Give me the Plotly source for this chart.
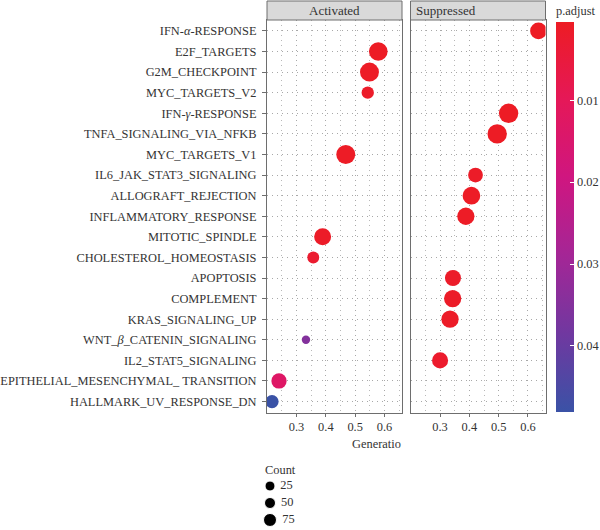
import plotly.graph_objects as go
import numpy as np

pathways = [
    "IFN-<i>α</i>-RESPONSE", "E2F_TARGETS", "G2M_CHECKPOINT", "MYC_TARGETS_V2",
    "IFN-<i>γ</i>-RESPONSE", "TNFA_SIGNALING_VIA_NFKB", "MYC_TARGETS_V1",
    "IL6_JAK_STAT3_SIGNALING", "ALLOGRAFT_REJECTION", "INFLAMMATORY_RESPONSE",
    "MITOTIC_SPINDLE", "CHOLESTEROL_HOMEOSTASIS", "APOPTOSIS", "COMPLEMENT",
    "KRAS_SIGNALING_UP", "WNT_<i>β</i>_CATENIN_SIGNALING", "IL2_STAT5_SIGNALING",
    "EPITHELIAL_MESENCHYMAL_ TRANSITION", "HALLMARK_UV_RESPONSE_DN",
]

# Activated panel
act_terms = ["E2F_TARGETS", "G2M_CHECKPOINT", "MYC_TARGETS_V2", "MYC_TARGETS_V1",
             "MITOTIC_SPINDLE", "CHOLESTEROL_HOMEOSTASIS", "WNT_<i>β</i>_CATENIN_SIGNALING",
             "EPITHELIAL_MESENCHYMAL_ TRANSITION", "HALLMARK_UV_RESPONSE_DN"]
act_ratio = [0.579, 0.549, 0.543, 0.468, 0.389, 0.357, 0.332, 0.240, 0.216]
act_count = [69, 71, 30, 71, 57, 28, 14, 46, 35]
act_padj = [0.0006, 0.0007, 0.0015, 0.0008, 0.0012, 0.0025, 0.035, 0.013, 0.048]

# Suppressed panel
sup_terms = ["IFN-<i>α</i>-RESPONSE", "IFN-<i>γ</i>-RESPONSE", "TNFA_SIGNALING_VIA_NFKB",
             "IL6_JAK_STAT3_SIGNALING", "ALLOGRAFT_REJECTION", "INFLAMMATORY_RESPONSE",
             "APOPTOSIS", "COMPLEMENT", "KRAS_SIGNALING_UP", "IL2_STAT5_SIGNALING"]
sup_ratio = [0.636, 0.534, 0.495, 0.421, 0.407, 0.388, 0.344, 0.343, 0.334, 0.300]
sup_count = [55, 74, 74, 43, 62, 59, 51, 59, 59, 51]
sup_padj = [0.0004, 0.0005, 0.0005, 0.0012, 0.0008, 0.0008, 0.0015, 0.0012, 0.0012, 0.002]

# size legend
legend_counts = [25, 50, 75]
legend_sizes = [10, 11, 13]

x_ticks = [0.3, 0.4, 0.5, 0.6]
cbar_ticks = [0.01, 0.02, 0.03, 0.04]
PMIN, PMAX = 0.0004, 0.048

FONT = "'Liberation Serif', 'DejaVu Serif', serif"
TXT = "#333333"
# red (small p, top of bar) -> blue (large p, bottom of bar); bar is drawn on -p
colorscale = [
    [0.0, "rgb(58,82,166)"], [0.2, "rgb(112,56,160)"], [0.4, "rgb(164,38,150)"],
    [0.6, "rgb(207,22,128)"], [0.8, "rgb(229,24,88)"], [1.0, "rgb(237,28,36)"],
]

def diam(c):
    return 2.25 * np.sqrt(np.array(c, dtype=float))

def neg(v):
    return [-p for p in v]

W, H = 600, 530
L1, R1 = 267, 402
L2, R2 = 410.5, 545.5
TOP, BOT = 20, 412.5

fig = go.Figure()
fig.add_trace(go.Scatter(
    x=act_ratio, y=act_terms, mode="markers", xaxis="x", yaxis="y",
    marker=dict(size=diam(act_count), color=neg(act_padj), coloraxis="coloraxis",
                opacity=1, line=dict(width=0)),
    showlegend=False,
))
fig.add_trace(go.Scatter(
    x=sup_ratio, y=sup_terms, mode="markers", xaxis="x2", yaxis="y2",
    marker=dict(size=diam(sup_count), color=neg(sup_padj), coloraxis="coloraxis",
                opacity=1, line=dict(width=0)),
    showlegend=False,
))
# size legend drawn as a small hidden-axis subplot
fig.add_trace(go.Scatter(
    x=[0] * len(legend_counts), y=legend_counts, mode="markers+text",
    text=[f" {c}" for c in legend_counts], textposition="middle right",
    textfont=dict(family=FONT, size=12.4, color=TXT),
    marker=dict(size=legend_sizes, color="black", opacity=1),
    xaxis="x3", yaxis="y3", showlegend=False, cliponaxis=False,
))

xr = [0.199, 0.660]
yr = [18.53, -0.53]
common_x = dict(
    range=xr, tickvals=x_ticks, ticktext=[f"{v:.1f}" for v in x_ticks],
    showgrid=True, gridcolor="#a8a8a8", griddash="1px,4px", gridwidth=1,
    minor=dict(dtick=0.05, tick0=0.25, showgrid=True, gridcolor="#b8b8b8", griddash="1px,4px", gridwidth=1),
    showline=True, mirror=True, linecolor="#6e6e6e", linewidth=1,
    ticks="outside", ticklen=3, tickcolor="#6e6e6e",
    tickfont=dict(family=FONT, size=12.4, color=TXT), zeroline=False,
)
common_y = dict(
    range=yr, type="category", categoryorder="array", categoryarray=pathways,
    showgrid=True, gridcolor="#a8a8a8", griddash="1px,4px", gridwidth=1,
    showline=True, mirror=True, linecolor="#6e6e6e", linewidth=1, zeroline=False,
)

CB_TOP = 2.5
fig.update_layout(
    width=W, height=H, margin=dict(l=0, r=0, t=0, b=0, autoexpand=False),
    paper_bgcolor="white", plot_bgcolor="white",
    font=dict(family=FONT, size=12.4, color=TXT),
    showlegend=False,
    xaxis=dict(domain=[L1 / W, R1 / W], anchor="y", **common_x),
    xaxis2=dict(domain=[L2 / W, R2 / W], anchor="y2", **common_x),
    yaxis=dict(domain=[1 - BOT / H, 1 - TOP / H], anchor="x", ticks="outside", ticklen=4,
               tickcolor="#6e6e6e", tickfont=dict(family=FONT, size=12.4, color=TXT),
               ticklabelstandoff=3, **common_y),
    yaxis2=dict(domain=[1 - BOT / H, 1 - TOP / H], anchor="x2", showticklabels=False,
                matches="y", **common_y),
    xaxis3=dict(domain=[262 / W, 310 / W], anchor="y3", range=[-1, 5], visible=False),
    yaxis3=dict(domain=[1 - 528 / H, 1 - 478 / H], anchor="x3", range=[86.8, 13.2], visible=False),
    coloraxis=dict(
        colorscale=colorscale, cmin=-PMAX, cmax=-PMIN,
        colorbar=dict(
            title=dict(text="p.adjust", side="top", font=dict(family=FONT, size=12.4, color=TXT)),
            x=556 / W, xanchor="left", xref="paper", y=1 - CB_TOP / H, yanchor="top",
            lenmode="pixels", len=411 - CB_TOP, thickness=18, thicknessmode="pixels",
            tickvals=neg(cbar_ticks), ticktext=[f"{v:.2f}" for v in cbar_ticks],
            ticks="inside", ticklen=4, tickcolor="white", outlinewidth=0,
            tickfont=dict(family=FONT, size=12.4, color=TXT), xpad=0, ypad=0,
        ),
    ),
)

# strip headers
for (l, r, label) in [(L1, R1, "Activated"), (L2, R2, "Suppressed")]:
    fig.add_shape(type="rect", xref="paper", yref="paper",
                  x0=l / W, x1=r / W, y0=1 - TOP / H, y1=1 - 1 / H,
                  fillcolor="#d9d9d9", line=dict(color="#6e6e6e", width=1), layer="above")
    fig.add_annotation(text=label, xref="paper", yref="paper", x=(l + r) / 2 / W,
                       y=1 - 10.5 / H, showarrow=False, yanchor="middle",
                       font=dict(family=FONT, size=13, color=TXT))

fig.add_annotation(text="Generatio", xref="paper", yref="paper", x=403 / W, y=1 - 444 / H,
                   showarrow=False, yanchor="middle", font=dict(family=FONT, size=12.4, color=TXT))
fig.add_annotation(text="Count", xref="paper", yref="paper", x=263 / W, y=1 - 470 / H,
                   showarrow=False, xanchor="left", yanchor="middle",
                   font=dict(family=FONT, size=12.4, color=TXT))

fig.write_html("out.html")
